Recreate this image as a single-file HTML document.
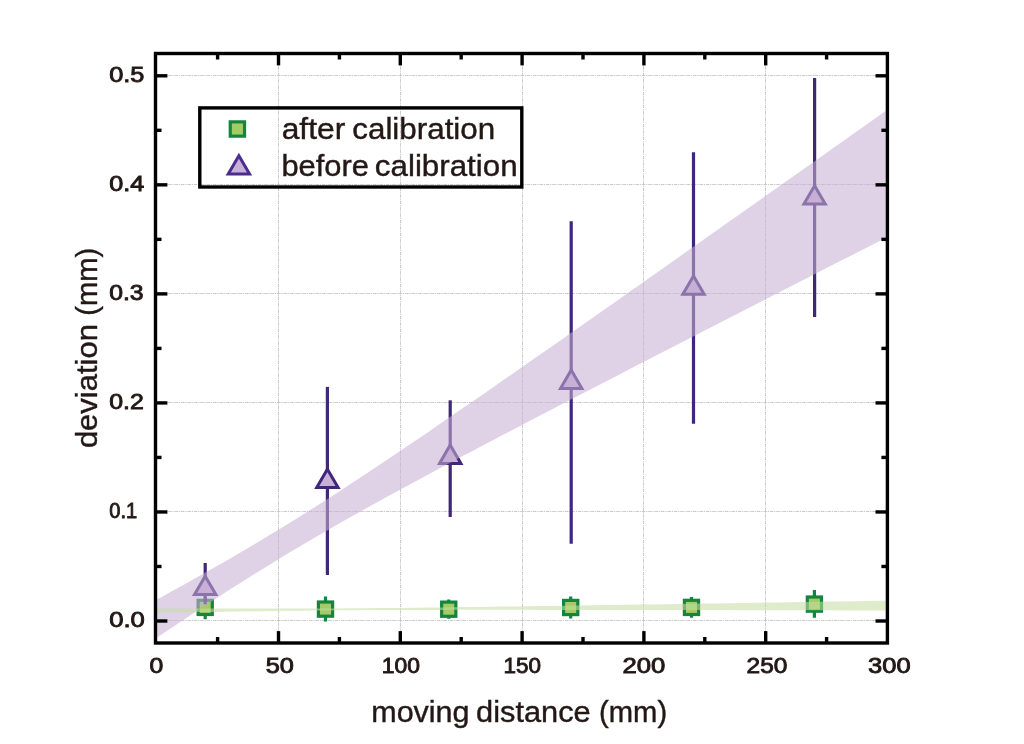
<!DOCTYPE html>
<html><head><meta charset="utf-8"><title>chart</title>
<style>html,body{margin:0;padding:0;background:#fff;}body{width:1024px;height:744px;overflow:hidden;}svg{display:block;will-change:transform;}text{font-family:"Liberation Sans",sans-serif;fill:#231815;}</style></head><body>
<svg width="1024" height="744" viewBox="0 0 1024 744">
<rect x="0" y="0" width="1024" height="744" fill="#ffffff"/>
<defs><clipPath id="plot"><rect x="157.20" y="55.20" width="728.50" height="586.10"/></clipPath></defs>
<g stroke="#b8b8b8" stroke-width="0.75" stroke-dasharray="3.4 0.9 1.2 0.9" fill="none">
<line x1="278.50" y1="53.50" x2="278.50" y2="643.00"/>
<line x1="400.50" y1="53.50" x2="400.50" y2="643.00"/>
<line x1="522.50" y1="53.50" x2="522.50" y2="643.00"/>
<line x1="643.50" y1="53.50" x2="643.50" y2="643.00"/>
<line x1="765.50" y1="53.50" x2="765.50" y2="643.00"/>
<line x1="155.50" y1="620.50" x2="887.40" y2="620.50"/>
<line x1="155.50" y1="511.50" x2="887.40" y2="511.50"/>
<line x1="155.50" y1="402.50" x2="887.40" y2="402.50"/>
<line x1="155.50" y1="293.50" x2="887.40" y2="293.50"/>
<line x1="155.50" y1="184.50" x2="887.40" y2="184.50"/>
<line x1="155.50" y1="75.50" x2="887.40" y2="75.50"/>
</g>
<g clip-path="url(#plot)">
<line x1="205.20" y1="596.50" x2="205.20" y2="619.20" stroke="#14853f" stroke-width="3.2"/>
<rect x="198.10" y="600.30" width="14.20" height="14.20" fill="#a3cc66" stroke="#14853f" stroke-width="3.2"/>
<line x1="325.50" y1="596.50" x2="325.50" y2="621.60" stroke="#14853f" stroke-width="3.2"/>
<rect x="318.40" y="602.00" width="14.20" height="14.20" fill="#a3cc66" stroke="#14853f" stroke-width="3.2"/>
<line x1="448.75" y1="599.40" x2="448.75" y2="618.70" stroke="#14853f" stroke-width="3.2"/>
<rect x="441.65" y="602.10" width="14.20" height="14.20" fill="#a3cc66" stroke="#14853f" stroke-width="3.2"/>
<line x1="570.70" y1="596.50" x2="570.70" y2="618.60" stroke="#14853f" stroke-width="3.2"/>
<rect x="563.60" y="600.40" width="14.20" height="14.20" fill="#a3cc66" stroke="#14853f" stroke-width="3.2"/>
<line x1="691.50" y1="597.10" x2="691.50" y2="617.70" stroke="#14853f" stroke-width="3.2"/>
<rect x="684.40" y="600.30" width="14.20" height="14.20" fill="#a3cc66" stroke="#14853f" stroke-width="3.2"/>
<line x1="814.40" y1="590.00" x2="814.40" y2="617.75" stroke="#14853f" stroke-width="3.2"/>
<rect x="807.30" y="597.00" width="14.20" height="14.20" fill="#a3cc66" stroke="#14853f" stroke-width="3.2"/>
<line x1="205.20" y1="563.10" x2="205.20" y2="604.30" stroke="#3f2779" stroke-width="3.2"/>
<path d="M205.20 576.13 L215.89 594.50 L194.51 594.50 Z" fill="#c9b0d9" stroke="#3f2779" stroke-width="3" stroke-linejoin="miter"/>
<line x1="327.40" y1="386.90" x2="327.40" y2="575.00" stroke="#3f2779" stroke-width="3.2"/>
<path d="M327.40 469.13 L338.09 487.50 L316.71 487.50 Z" fill="#c9b0d9" stroke="#3f2779" stroke-width="3" stroke-linejoin="miter"/>
<line x1="450.20" y1="400.30" x2="450.20" y2="517.00" stroke="#3f2779" stroke-width="3.2"/>
<path d="M450.20 445.03 L460.89 463.40 L439.51 463.40 Z" fill="#c9b0d9" stroke="#3f2779" stroke-width="3" stroke-linejoin="miter"/>
<line x1="571.20" y1="221.30" x2="571.20" y2="543.70" stroke="#3f2779" stroke-width="3.2"/>
<path d="M571.20 370.03 L581.89 388.40 L560.51 388.40 Z" fill="#c9b0d9" stroke="#3f2779" stroke-width="3" stroke-linejoin="miter"/>
<line x1="693.50" y1="152.20" x2="693.50" y2="423.80" stroke="#3f2779" stroke-width="3.2"/>
<path d="M693.50 275.93 L704.19 294.30 L682.81 294.30 Z" fill="#c9b0d9" stroke="#3f2779" stroke-width="3" stroke-linejoin="miter"/>
<line x1="814.60" y1="77.90" x2="814.60" y2="317.00" stroke="#3f2779" stroke-width="3.2"/>
<path d="M814.60 185.73 L825.29 204.10 L803.91 204.10 Z" fill="#c9b0d9" stroke="#3f2779" stroke-width="3" stroke-linejoin="miter"/>
<polygon fill="#c8afd2" fill-opacity="0.56" points="151.8,602.2 161.6,596.9 171.3,591.6 181.1,586.2 190.8,580.8 200.5,575.3 210.3,569.8 220.0,564.3 229.8,558.7 239.5,553.0 249.3,547.3 259.0,541.5 268.8,535.6 278.5,529.7 288.2,523.7 298.0,517.7 307.7,511.6 317.5,505.4 327.2,499.2 337.0,492.9 346.7,486.5 356.5,480.1 366.2,473.7 375.9,467.2 385.7,460.7 395.4,454.2 405.2,447.6 414.9,441.0 424.7,434.4 434.4,427.7 444.1,421.0 453.9,414.3 463.6,407.6 473.4,400.9 483.1,394.2 492.9,387.4 502.6,380.6 512.4,373.9 522.1,367.1 531.8,360.3 541.6,353.5 551.3,346.7 561.1,339.9 570.8,333.0 580.6,326.2 590.3,319.4 600.1,312.6 609.8,305.7 619.5,298.9 629.3,292.0 639.0,285.2 648.8,278.3 658.5,271.4 668.3,264.6 678.0,257.7 687.7,250.8 697.5,244.0 707.2,237.1 717.0,230.2 726.7,223.3 736.5,216.5 746.2,209.6 756.0,202.7 765.7,195.8 775.4,188.9 785.2,182.0 794.9,175.2 804.7,168.3 814.4,161.4 824.2,154.5 833.9,147.6 843.7,140.7 853.4,133.8 863.1,126.9 872.9,120.0 882.6,113.1 892.4,106.2 892.4,234.4 882.6,239.4 872.9,244.4 863.1,249.4 853.4,254.4 843.7,259.3 833.9,264.3 824.2,269.3 814.4,274.3 804.7,279.3 794.9,284.3 785.2,289.2 775.4,294.2 765.7,299.2 756.0,304.2 746.2,309.2 736.5,314.2 726.7,319.2 717.0,324.2 707.2,329.2 697.5,334.2 687.7,339.2 678.0,344.2 668.3,349.2 658.5,354.3 648.8,359.3 639.0,364.3 629.3,369.3 619.5,374.4 609.8,379.4 600.1,384.4 590.3,389.5 580.6,394.5 570.8,399.6 561.1,404.6 551.3,409.7 541.6,414.7 531.8,419.8 522.1,424.9 512.4,430.0 502.6,435.1 492.9,440.2 483.1,445.3 473.4,450.5 463.6,455.6 453.9,460.8 444.1,466.0 434.4,471.2 424.7,476.4 414.9,481.7 405.2,486.9 395.4,492.2 385.7,497.6 375.9,502.9 366.2,508.3 356.5,513.8 346.7,519.3 337.0,524.8 327.2,530.4 317.5,536.0 307.7,541.7 298.0,547.5 288.2,553.3 278.5,559.2 268.8,565.2 259.0,571.2 249.3,577.3 239.5,583.4 229.8,589.6 220.0,595.9 210.3,602.2 200.5,608.6 190.8,615.0 181.1,621.5 171.3,628.0 161.6,634.5 151.8,641.1"/>
<polygon fill="#c4dda4" fill-opacity="0.56" points="150.0,608.5 162.6,608.5 175.2,608.6 187.7,608.6 200.3,608.6 212.9,608.6 225.5,608.6 238.0,608.6 250.6,608.6 263.2,608.6 275.8,608.6 288.3,608.5 300.9,608.5 313.5,608.5 326.1,608.4 338.6,608.4 351.2,608.3 363.8,608.2 376.4,608.1 388.9,608.0 401.5,607.9 414.1,607.8 426.7,607.6 439.3,607.5 451.8,607.3 464.4,607.1 477.0,607.0 489.6,606.8 502.1,606.6 514.7,606.5 527.3,606.3 539.9,606.1 552.4,605.9 565.0,605.7 577.6,605.5 590.2,605.3 602.7,605.1 615.3,605.0 627.9,604.8 640.5,604.6 653.1,604.4 665.6,604.2 678.2,604.0 690.8,603.8 703.4,603.6 715.9,603.4 728.5,603.2 741.1,603.0 753.7,602.8 766.2,602.6 778.8,602.4 791.4,602.2 804.0,602.0 816.5,601.8 829.1,601.6 841.7,601.4 854.3,601.2 866.8,601.0 879.4,600.8 892.0,600.6 892.0,610.5 879.4,610.4 866.8,610.4 854.3,610.4 841.7,610.4 829.1,610.3 816.5,610.3 804.0,610.3 791.4,610.3 778.8,610.2 766.2,610.2 753.7,610.2 741.1,610.2 728.5,610.1 715.9,610.1 703.4,610.1 690.8,610.1 678.2,610.1 665.6,610.0 653.1,610.0 640.5,610.0 627.9,610.0 615.3,610.0 602.7,609.9 590.2,609.9 577.6,609.9 565.0,609.9 552.4,609.9 539.9,609.9 527.3,609.8 514.7,609.8 502.1,609.8 489.6,609.8 477.0,609.8 464.4,609.8 451.8,609.8 439.3,609.9 426.7,609.9 414.1,609.9 401.5,609.9 388.9,610.0 376.4,610.1 363.8,610.1 351.2,610.2 338.6,610.3 326.1,610.4 313.5,610.6 300.9,610.7 288.3,610.8 275.8,611.0 263.2,611.2 250.6,611.3 238.0,611.5 225.5,611.7 212.9,611.9 200.3,612.0 187.7,612.2 175.2,612.4 162.6,612.6 150.0,612.8"/>
</g>
<g stroke="#000" stroke-width="3.4" fill="none" stroke-linecap="butt">
<rect x="155.50" y="53.50" width="731.90" height="589.50"/>
<line x1="278.50" y1="643.00" x2="278.50" y2="631.10"/>
<line x1="278.50" y1="53.50" x2="278.50" y2="65.40"/>
<line x1="400.30" y1="643.00" x2="400.30" y2="631.10"/>
<line x1="400.30" y1="53.50" x2="400.30" y2="65.40"/>
<line x1="522.10" y1="643.00" x2="522.10" y2="631.10"/>
<line x1="522.10" y1="53.50" x2="522.10" y2="65.40"/>
<line x1="643.90" y1="643.00" x2="643.90" y2="631.10"/>
<line x1="643.90" y1="53.50" x2="643.90" y2="65.40"/>
<line x1="765.70" y1="643.00" x2="765.70" y2="631.10"/>
<line x1="765.70" y1="53.50" x2="765.70" y2="65.40"/>
<line x1="217.60" y1="643.00" x2="217.60" y2="637.00"/>
<line x1="217.60" y1="53.50" x2="217.60" y2="59.50"/>
<line x1="339.40" y1="643.00" x2="339.40" y2="637.00"/>
<line x1="339.40" y1="53.50" x2="339.40" y2="59.50"/>
<line x1="461.20" y1="643.00" x2="461.20" y2="637.00"/>
<line x1="461.20" y1="53.50" x2="461.20" y2="59.50"/>
<line x1="583.00" y1="643.00" x2="583.00" y2="637.00"/>
<line x1="583.00" y1="53.50" x2="583.00" y2="59.50"/>
<line x1="704.80" y1="643.00" x2="704.80" y2="637.00"/>
<line x1="704.80" y1="53.50" x2="704.80" y2="59.50"/>
<line x1="826.60" y1="643.00" x2="826.60" y2="637.00"/>
<line x1="826.60" y1="53.50" x2="826.60" y2="59.50"/>
<line x1="155.50" y1="621.00" x2="167.40" y2="621.00"/>
<line x1="887.40" y1="621.00" x2="875.50" y2="621.00"/>
<line x1="155.50" y1="511.96" x2="167.40" y2="511.96"/>
<line x1="887.40" y1="511.96" x2="875.50" y2="511.96"/>
<line x1="155.50" y1="402.92" x2="167.40" y2="402.92"/>
<line x1="887.40" y1="402.92" x2="875.50" y2="402.92"/>
<line x1="155.50" y1="293.88" x2="167.40" y2="293.88"/>
<line x1="887.40" y1="293.88" x2="875.50" y2="293.88"/>
<line x1="155.50" y1="184.84" x2="167.40" y2="184.84"/>
<line x1="887.40" y1="184.84" x2="875.50" y2="184.84"/>
<line x1="155.50" y1="75.80" x2="167.40" y2="75.80"/>
<line x1="887.40" y1="75.80" x2="875.50" y2="75.80"/>
<line x1="155.50" y1="566.48" x2="161.50" y2="566.48"/>
<line x1="887.40" y1="566.48" x2="881.40" y2="566.48"/>
<line x1="155.50" y1="457.44" x2="161.50" y2="457.44"/>
<line x1="887.40" y1="457.44" x2="881.40" y2="457.44"/>
<line x1="155.50" y1="348.40" x2="161.50" y2="348.40"/>
<line x1="887.40" y1="348.40" x2="881.40" y2="348.40"/>
<line x1="155.50" y1="239.36" x2="161.50" y2="239.36"/>
<line x1="887.40" y1="239.36" x2="881.40" y2="239.36"/>
<line x1="155.50" y1="130.32" x2="161.50" y2="130.32"/>
<line x1="887.40" y1="130.32" x2="881.40" y2="130.32"/>
<rect x="199.8" y="107.9" width="322" height="79.1"/>
</g>
<rect x="230.25" y="121.85" width="14.30" height="14.30" fill="#a3cc66" stroke="#14853f" stroke-width="3.2"/>
<path d="M238.90 155.73 L249.59 174.10 L228.21 174.10 Z" fill="#c9b0d9" stroke="#4b2d8f" stroke-width="3" stroke-linejoin="miter"/>
<g font-size="22.6" stroke="#231815" stroke-width="0.9">
<text x="109.20" y="81.80" textLength="35.3" lengthAdjust="spacingAndGlyphs">0.5</text>
<text x="109.20" y="190.84" textLength="35.0" lengthAdjust="spacingAndGlyphs">0.4</text>
<text x="109.20" y="299.88" textLength="34.4" lengthAdjust="spacingAndGlyphs">0.3</text>
<text x="109.20" y="408.92" textLength="34.6" lengthAdjust="spacingAndGlyphs">0.2</text>
<text x="109.20" y="517.96" textLength="28.0" lengthAdjust="spacingAndGlyphs">0.1</text>
<text x="109.20" y="627.00" textLength="35.7" lengthAdjust="spacingAndGlyphs">0.0</text>
<text x="156.30" y="673.30" text-anchor="middle" textLength="13.8" lengthAdjust="spacingAndGlyphs">0</text>
<text x="279.80" y="673.30" text-anchor="middle" textLength="28.2" lengthAdjust="spacingAndGlyphs">50</text>
<text x="400.80" y="673.30" text-anchor="middle" textLength="38.2" lengthAdjust="spacingAndGlyphs">100</text>
<text x="522.30" y="673.30" text-anchor="middle" textLength="37.5" lengthAdjust="spacingAndGlyphs">150</text>
<text x="643.95" y="673.30" text-anchor="middle" textLength="42.9" lengthAdjust="spacingAndGlyphs">200</text>
<text x="767.00" y="673.30" text-anchor="middle" textLength="40.8" lengthAdjust="spacingAndGlyphs">250</text>
<text x="889.30" y="673.30" text-anchor="middle" textLength="42.6" lengthAdjust="spacingAndGlyphs">300</text>
</g>
<g stroke="#231815" stroke-width="0.4">
<text x="371.25" y="721.60" font-size="29.6" textLength="98.27" lengthAdjust="spacingAndGlyphs">moving</text>
<text x="476.05" y="721.60" font-size="29.6" textLength="114.66" lengthAdjust="spacingAndGlyphs">distance</text>
<text x="599.04" y="721.60" font-size="29.6" textLength="68.09" lengthAdjust="spacingAndGlyphs">(mm)</text>
<text transform="translate(96.60,448.12) rotate(-90)" font-size="29.6" textLength="124.00" lengthAdjust="spacingAndGlyphs">deviation</text>
<text transform="translate(96.60,315.82) rotate(-90)" font-size="29.6" textLength="68.13" lengthAdjust="spacingAndGlyphs">(mm)</text>
<text x="281.70" y="139.40" font-size="28.7" textLength="63.57" lengthAdjust="spacingAndGlyphs">after</text>
<text x="352.31" y="139.40" font-size="28.7" textLength="142.87" lengthAdjust="spacingAndGlyphs">calibration</text>
<text x="281.43" y="175.70" font-size="28.7" textLength="87.50" lengthAdjust="spacingAndGlyphs">before</text>
<text x="374.89" y="175.70" font-size="28.7" textLength="142.73" lengthAdjust="spacingAndGlyphs">calibration</text>
</g>
</svg></body></html>
